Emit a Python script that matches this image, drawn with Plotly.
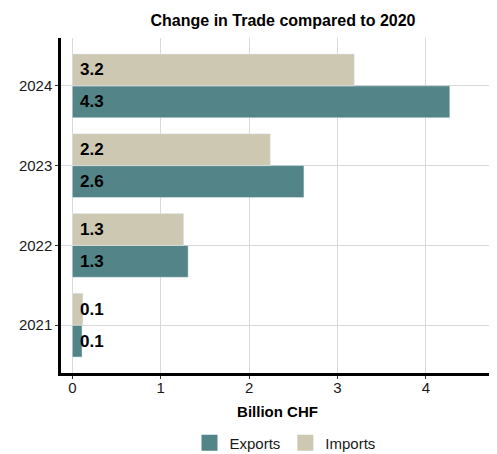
import plotly.graph_objects as go

years = ["2021", "2022", "2023", "2024"]
exports = [0.11, 1.31, 2.62, 4.27]
imports = [0.12, 1.26, 2.24, 3.19]
export_labels = ["0.1", "1.3", "2.6", "4.3"]
import_labels = ["0.1", "1.3", "2.2", "3.2"]

series = [
    ("Exports", exports, export_labels, "#538487"),
    ("Imports", imports, import_labels, "#cdc8b1"),
]

FONT = "Liberation Sans, Arial, sans-serif"
W, H = 489, 446  # page body has an 8px margin

fig = go.Figure()
for name, vals, labels, color in series:
    fig.add_trace(go.Bar(
        y=years, x=vals, orientation="h", name=name,
        marker=dict(color=color), showlegend=False,
        text=[" " + t for t in labels], textposition="inside", insidetextanchor="start",
        constraintext="none", textangle=0, cliponaxis=False,
        textfont=dict(family=FONT, size=17, color="black", weight="bold"),
    ))
# legend entries with square keys (ggplot-like)
for name, vals, labels, color in series:
    fig.add_trace(go.Scatter(
        x=[None], y=[None], mode="markers", name=name,
        marker=dict(symbol="square", size=21, color=color),
        showlegend=True, hoverinfo="skip",
    ))

fig.update_layout(
    width=W, height=H,
    barmode="group", bargap=0.2, bargroupgap=0,
    plot_bgcolor="white", paper_bgcolor="white",
    font=dict(family=FONT, size=15, color="#1a1a1a"),
    margin=dict(l=53, r=3, t=30, b=81, autoexpand=False),
    title=dict(text="<b>Change in Trade compared to 2020</b>", x=275 / W, xref="container",
               y=1 - 12 / H, yref="container", xanchor="center", yanchor="middle",
               font=dict(family=FONT, size=16, color="black")),
    legend=dict(orientation="h", x=277 / W, xanchor="center", xref="container",
                y=11 / H, yref="container", yanchor="middle",
                font=dict(size=15, color="#1a1a1a"), traceorder="normal",
                itemwidth=30, bgcolor="rgba(0,0,0,0)"),
    showlegend=True,
)
fig.update_xaxes(
    range=[-0.128, 4.77], tickvals=[0, 1, 2, 3, 4], automargin=False,
    showgrid=True, gridcolor="#d9d9d9", gridwidth=1.2,
    zeroline=False, showline=True, linecolor="black", linewidth=2.5,
    ticks="outside", ticklen=3, tickcolor="#333333", ticklabelstandoff=-4,
    tickfont=dict(size=15, color="#1a1a1a"),
    title=dict(text="<b>Billion CHF</b>", font=dict(family=FONT, size=15, color="black"), standoff=12),
)
fig.update_yaxes(
    range=[-0.6, 3.6], automargin=False,
    showgrid=True, gridcolor="#d9d9d9", gridwidth=1.2,
    showline=True, linecolor="black", linewidth=2.5,
    ticks="outside", ticklen=3, tickcolor="#333333",
    tickfont=dict(size=15, color="#1a1a1a"),
)

fig.write_html("out.html")
